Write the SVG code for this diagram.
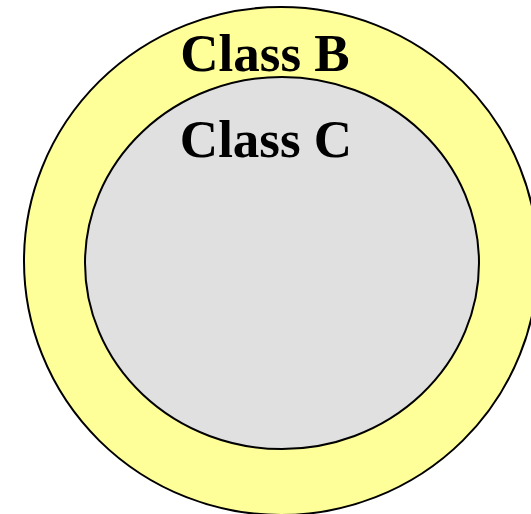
<svg xmlns="http://www.w3.org/2000/svg" width="531" height="514" viewBox="0 0 531 514">
<style>
.lbl{font-family:"Liberation Serif","Times New Roman",serif;font-weight:bold;font-size:53px;fill:#000;text-anchor:middle}
.ring{stroke:#000;stroke-width:2}
</style>
<rect width="531" height="514" fill="#fff"/>
<g id="classB">
<ellipse class="ring" cx="281" cy="261" rx="257" ry="254" fill="#ffff99"/>
<text class="lbl" x="265" y="71">Class B</text>
</g>
<g id="classC">
<ellipse class="ring" cx="282" cy="263" rx="197" ry="186" fill="#e0e0e0"/>
<text class="lbl" x="266" y="157">Class C</text>
</g>
<g id="connectors"/>
</svg>
